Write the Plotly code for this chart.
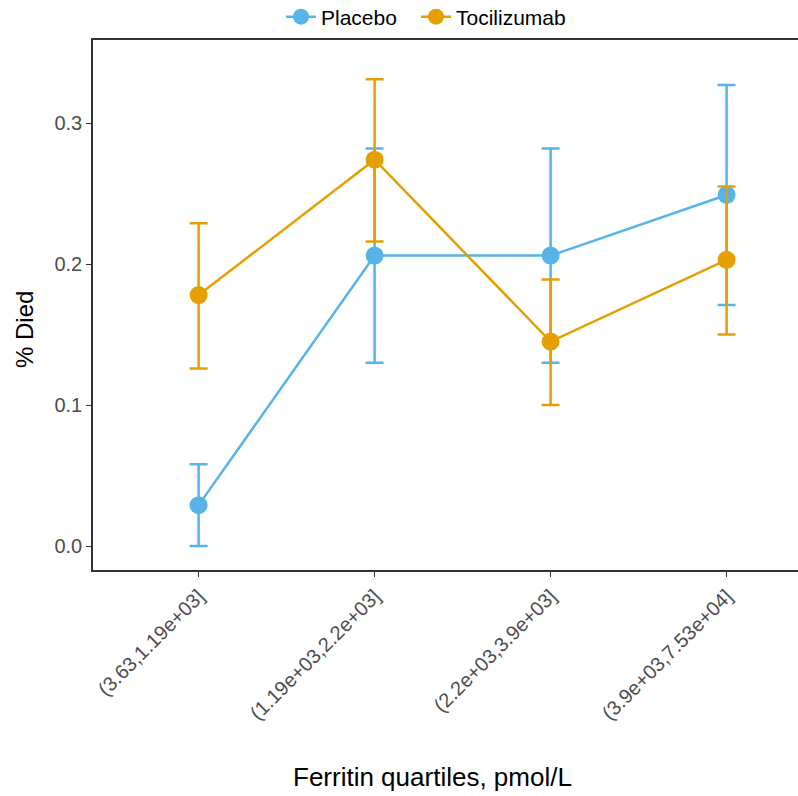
import plotly.graph_objects as go

categories = ["(3.63,1.19e+03]", "(1.19e+03,2.2e+03]", "(2.2e+03,3.9e+03]", "(3.9e+03,7.53e+04]"]

placebo = [0.029, 0.206, 0.206, 0.249]
placebo_lo = [0.000, 0.130, 0.130, 0.171]
placebo_hi = [0.058, 0.282, 0.282, 0.327]

toci = [0.178, 0.274, 0.145, 0.203]
toci_lo = [0.126, 0.216, 0.100, 0.150]
toci_hi = [0.229, 0.331, 0.189, 0.255]

series = [
    ("Placebo", placebo, placebo_lo, placebo_hi, "#56B4E9", 90),
    ("Tocilizumab", toci, toci_lo, toci_hi, "#E69F00", 118),
]

FONT = "Liberation Sans, Arial, Helvetica, sans-serif"

fig = go.Figure()
for name, v, lo, hi, col, lw in series:
    fig.add_trace(go.Scatter(
        x=categories, y=v, name=name, mode="lines+markers",
        line=dict(color=col, width=2.5),
        marker=dict(color=col, size=18),
        legendwidth=lw,
        error_y=dict(type="data", symmetric=False,
                     array=[h - m for h, m in zip(hi, v)],
                     arrayminus=[m - l for m, l in zip(v, lo)],
                     color=col, thickness=2.5, width=9),
    ))

L, R, T, B = 93, 0, 40, 226
W, H = 798, 796
pw, ph = W - L - R, H - T - B

def px_x(x):
    return (x - L) / pw

def px_y(y):
    return (H - B - y) / ph

fig.update_layout(
    width=W, height=H,
    plot_bgcolor="white", paper_bgcolor="white",
    margin=dict(l=L, r=R, t=T, b=B, autoexpand=False),
    font=dict(family=FONT, color="black"),
    showlegend=True,
    legend=dict(orientation="h", x=px_x(430), xanchor="center", y=px_y(17), yanchor="middle",
                font=dict(size=21, color="black"), bgcolor="rgba(0,0,0,0)",
                traceorder="normal", itemwidth=30),
    xaxis=dict(
        range=[-0.6, -0.6 + pw / 176.0], tickangle=-45, showgrid=False, automargin=False,
        showline=True, linecolor="#333333", linewidth=1.5, mirror=True,
        ticks="outside", ticklen=5, tickcolor="#333333", tickwidth=1.2,
        tickfont=dict(size=20, color="#4D4D4D"),
    ),
    yaxis=dict(
        range=[-0.017, 0.3589], tickvals=[0.0, 0.1, 0.2, 0.3], ticktext=["0.0", "0.1", "0.2", "0.3"],
        showgrid=False, zeroline=False, automargin=False,
        showline=True, linecolor="#333333", linewidth=1.5, mirror=False,
        ticks="outside", ticklen=5, tickcolor="#333333", tickwidth=1.2,
        tickfont=dict(size=20, color="#4D4D4D"),
    ),
    annotations=[
        dict(text="Ferritin quartiles, pmol/L", xref="paper", yref="paper",
             x=px_x(432), y=px_y(777), xanchor="center", yanchor="middle",
             showarrow=False, font=dict(size=26, color="black", family=FONT)),
        dict(text="% Died", xref="paper", yref="paper",
             x=px_x(24), y=px_y(330), xanchor="center", yanchor="middle", textangle=-90,
             showarrow=False, font=dict(size=24, color="black", family=FONT)),
    ],
)

fig.write_html("out.html", config={"displayModeBar": False},
               post_script="document.body.style.margin='0px';document.body.style.overflow='hidden';")
